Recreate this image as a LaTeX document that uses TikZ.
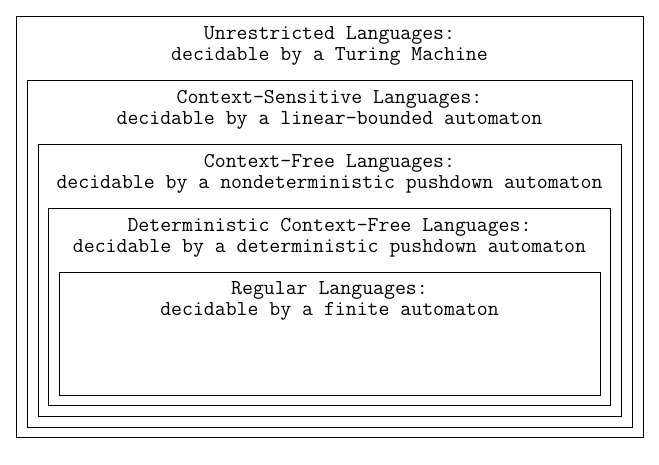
\documentclass[tikz,border=0pt]{standalone}
\usepackage{fontspec}
\begin{document}
\begin{tikzpicture}[x=1pt,y=-1pt]

      \useasboundingbox (0,0) rectangle (659,464);

      \begin{scope}[every node/.style={draw, line width=1pt, inner sep=0pt}]
        \node (unres)  [minimum width=627pt, minimum height=421pt] at (329.5,226.5) {};
        \node (csens)  [minimum width=605pt, minimum height=347pt] at (329.5,253.5) {};
        \node (cfree)  [minimum width=583pt, minimum height=272pt] at (329.5,280)   {};
        \node (dcfree) [minimum width=562pt, minimum height=197pt] at (329.5,306.5) {};
        \node (reg)    [minimum width=541pt, minimum height=123pt] at (329.5,333.5) {};
      \end{scope}

      \begin{scope}[every node/.style={align=center, anchor=base, inner sep=0pt,
          font=\ttfamily\fontsize{21.2}{20.8}\selectfont}]
        \node (unres-label)  at (329.5,60)  {Unrestricted Languages:\\decidable by a Turing Machine};
        \node (csens-label)  at (329.5,124) {Context-Sensitive Languages:\\decidable by a linear-bounded automaton};
        \node (cfree-label)  at (329.5,188) {Context-Free Languages:\\decidable by a nondeterministic pushdown automaton};
        \node (dcfree-label) at (329.5,252) {Deterministic Context-Free Languages:\\decidable by a deterministic pushdown automaton};
        \node (reg-label)    at (329.5,315) {Regular Languages:\\decidable by a finite automaton};
      \end{scope}

    \end{tikzpicture}
\end{document}
